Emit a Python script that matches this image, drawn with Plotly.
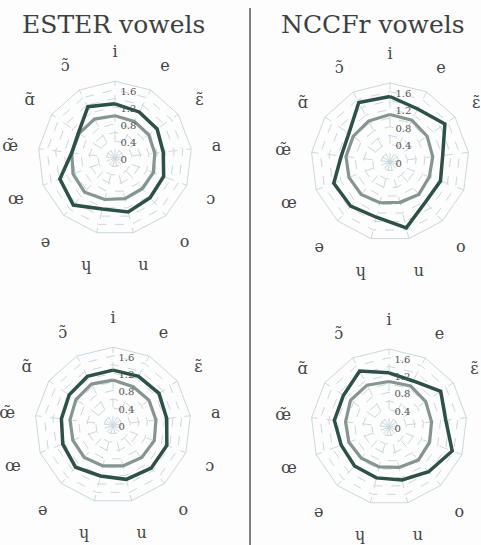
import plotly.graph_objects as go

# Vowel categories around each radar (clockwise from the top)
vowels = ["i", "e", "ɛ\u0303", "a", "ɔ", "o", "u", "ɥ", "ə", "œ", "œ\u0303", "ɑ\u0303", "ɔ\u0303"]

# ESTER corpus, upper panel
ester_top_dark = [1.27, 1.22, 1.20, 1.14, 1.22, 1.24, 1.30, 1.23, 1.47, 1.38, 1.02, 1.04, 1.36]
ester_top_gray = [0.99, 0.97, 0.96, 0.94, 0.96, 0.96, 0.98, 1.00, 1.07, 1.05, 1.02, 1.02, 1.03]
# NCCFr corpus, upper panel
nccfr_top_dark = [1.49, 1.36, 1.52, 1.21, 1.23, 1.22, 1.55, 1.30, 1.35, 1.37, 1.12, 1.14, 1.53]
nccfr_top_gray = [1.08, 1.07, 1.03, 0.98, 0.96, 0.99, 0.95, 0.96, 0.99, 1.00, 1.01, 1.02, 1.05]
# ESTER corpus, lower panel
ester_bot_dark = [1.27, 1.27, 1.29, 1.25, 1.33, 1.33, 1.29, 1.21, 1.30, 1.24, 1.20, 1.23, 1.27]
ester_bot_gray = [1.04, 1.00, 1.01, 1.00, 1.02, 1.00, 0.97, 0.97, 1.00, 0.99, 1.00, 1.04, 1.07]
# NCCFr corpus, lower panel
nccfr_bot_dark = [1.25, 1.20, 1.45, 1.32, 1.56, 1.38, 1.26, 1.21, 1.20, 1.18, 1.27, 1.28, 1.46]
nccfr_bot_gray = [1.05, 1.07, 1.03, 0.99, 1.00, 1.02, 0.96, 0.95, 0.96, 0.99, 1.01, 1.08, 1.09]

titles = ["ESTER vowels", "NCCFr vowels"]

radial_ticks = [0, 0.2, 0.4, 0.6, 0.8, 1.0, 1.2, 1.4, 1.6, 1.8]
radial_text = ["0", "", "0.4", "", "0.8", "", "1.2", "", "1.6", ""]

DARK = "#2d5048"
GRAY = "#86958f"
GRID = "#cbd8de"
SERIF = "DejaVu Serif"

panels = [
    ("polar", ester_top_dark, ester_top_gray, [0.079, 0.399], [0.569, 0.851]),
    ("polar2", nccfr_top_dark, nccfr_top_gray, [0.6466, 0.975], [0.558, 0.848]),
    ("polar3", ester_bot_dark, ester_bot_gray, [0.0728, 0.397], [0.077, 0.363]),
    ("polar4", nccfr_bot_dark, nccfr_bot_gray, [0.6466, 0.9709], [0.0734, 0.3596]),
]

fig = go.Figure()
layout_polars = {}
for name, dark, gray, dx, dy in panels:
    theta = vowels + [vowels[0]]
    fig.add_trace(go.Scatterpolar(
        r=gray + [gray[0]], theta=theta, mode="lines", subplot=name,
        line=dict(color=GRAY, width=3.2), showlegend=False))
    fig.add_trace(go.Scatterpolar(
        r=dark + [dark[0]], theta=theta, mode="lines", subplot=name,
        line=dict(color=DARK, width=3.5), showlegend=False))
    layout_polars[name] = dict(
        domain=dict(x=dx, y=dy),
        gridshape="linear",
        bgcolor="rgba(0,0,0,0)",
        radialaxis=dict(
            range=[0, 1.8], angle=90, tickvals=radial_ticks, ticktext=radial_text,
            showline=False, ticks="", gridcolor=GRID, griddash="dash", gridwidth=1,
            tickfont=dict(family=SERIF, size=10, color="#555555"), side="clockwise"),
        angularaxis=dict(
            categoryarray=vowels, categoryorder="array", direction="clockwise",
            rotation=90, showline=True, linecolor=GRID, linewidth=1,
            gridcolor=GRID, griddash="dash", gridwidth=1,
            ticks="outside", ticklen=17, tickcolor="rgba(0,0,0,0)",
            tickfont=dict(family=SERIF, size=16, color="#444444")),
    )

fig.update_layout(
    width=481, height=545,
    margin=dict(l=0, r=0, t=0, b=0),
    paper_bgcolor="#fcfdfc",
    **layout_polars,
)

for x, text in zip([113 / 481, 373 / 481], titles):
    fig.add_annotation(
        x=x, y=1 - 25 / 545, xref="paper", yref="paper", text=text,
        showarrow=False, xanchor="center", yanchor="middle",
        font=dict(family=SERIF, size=25, color="#3f3f3f"))

# divider between the two corpora
fig.add_shape(type="line", xref="paper", yref="paper",
              x0=250 / 481, x1=250 / 481, y0=0, y1=1 - 8 / 545,
              line=dict(color="#555555", width=1.5))

fig.write_html("out.html")
